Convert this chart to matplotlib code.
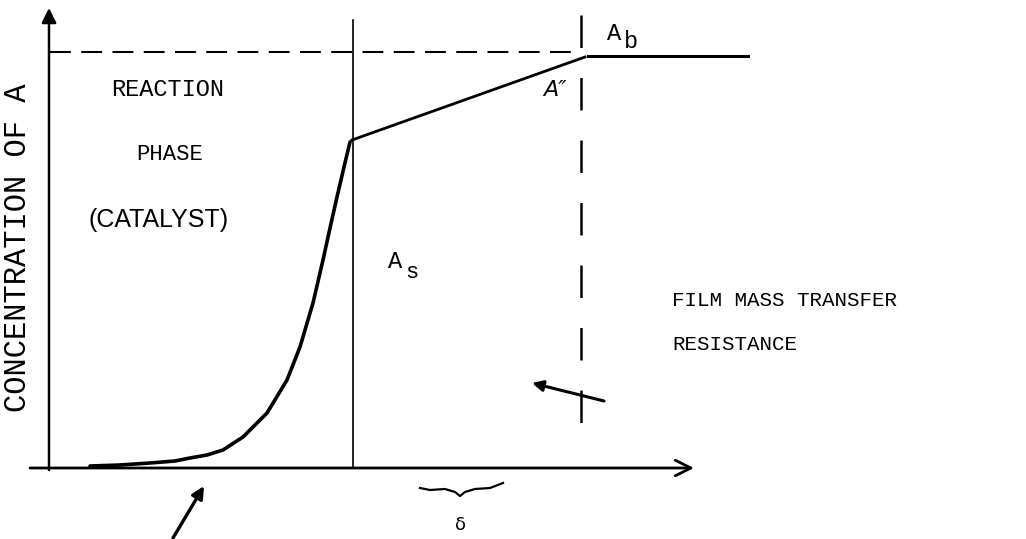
import matplotlib
matplotlib.use("Agg")
import matplotlib.pyplot as plt

# ---- data (diagram coordinates, pixel-like units, y grows downward) ----
curve_x = [90, 120, 150, 175, 190, 207, 223, 243, 267, 287, 300, 313, 323, 330, 337, 344, 350]
curve_y = [466, 465, 463, 461, 458, 455, 450, 437, 413, 380, 347, 303, 260, 228, 197, 167, 142]
film_x = [352, 585]
film_y = [140, 57]
bulk_x = [588, 748]
bulk_y = [56, 56]
brace_x = [420, 430, 445, 455, 460, 465, 475, 490, 503]
brace_y = [488, 490, 489, 492, 496, 492, 489, 488, 483]

labels_typewriter = ["REACTION", "PHASE", "FILM MASS TRANSFER", "RESISTANCE"]
ylabel = "CONCENTRATION OF A"

W, H = 1026, 539
fig = plt.figure(figsize=(W / 100, H / 100), dpi=100)
ax = fig.add_axes([0, 0, 1, 1])
ax.set_xlim(0, W)
ax.set_ylim(H, 0)
ax.axis("off")

k = "black"
mono = "Liberation Mono"

# axes
ax.annotate("", xy=(49, 8), xytext=(49, 470),
            arrowprops=dict(arrowstyle="-|>", lw=1.8, color=k, mutation_scale=22,
                            shrinkA=0, shrinkB=0))
ax.annotate("", xy=(694, 468), xytext=(30, 468),
            arrowprops=dict(arrowstyle="->", lw=2.0, color=k, mutation_scale=28,
                            shrinkA=0, shrinkB=0))

# dashed horizontal (bulk level)
ax.plot([50, 580], [52, 52], color=k, lw=1.5, linestyle=(0, (10, 5)))
# solid vertical (interface)
ax.plot([353, 353], [20, 468], color=k, lw=1.2)
# dashed vertical (film edge)
ax.plot([581, 581], [15, 445], color=k, lw=1.8, linestyle=(0, (13, 12)))

# concentration profile
ax.plot(curve_x, curve_y, color=k, lw=2.6, solid_capstyle="round", solid_joinstyle="round")
ax.plot(film_x, film_y, color=k, lw=2.0)
ax.plot(bulk_x, bulk_y, color=k, lw=2.2)

# pointer arrows
ax.annotate("", xy=(532, 383), xytext=(604, 401),
            arrowprops=dict(arrowstyle="-|>", lw=2.2, color=k, mutation_scale=16,
                            shrinkA=0, shrinkB=0))
ax.annotate("", xy=(204, 486), xytext=(173, 538),
            arrowprops=dict(arrowstyle="-|>", lw=2.4, color=k, mutation_scale=18,
                            shrinkA=0, shrinkB=0))

# brace under x-axis
ax.plot(brace_x, brace_y, color=k, lw=1.6)

# texts
ax.text(111, 90, labels_typewriter[0], fontfamily=mono, fontsize=17, va="center", ha="left")
ax.text(136, 155, labels_typewriter[1], fontfamily=mono, fontsize=16, va="center", ha="left")
ax.text(89, 220, "(CATALYST)", fontfamily="Liberation Sans", fontsize=18, va="center", ha="left")
ax.text(18, 248, ylabel, fontfamily=mono, fontsize=22, rotation=90, va="center", ha="center")
ax.text(672, 300, labels_typewriter[2], fontfamily=mono, fontsize=15, va="center", ha="left")
ax.text(672, 345, labels_typewriter[3], fontfamily=mono, fontsize=15, va="center", ha="left")
ax.text(388, 262, "A", fontfamily=mono, fontsize=17, va="center", ha="left")
ax.text(405, 272, "s", fontfamily=mono, fontsize=16, va="center", ha="left")
ax.text(607, 33, "A", fontfamily=mono, fontsize=17, va="center", ha="left")
ax.text(624, 42, "b", fontfamily=mono, fontsize=17, va="center", ha="left")
ax.text(543, 90, "A\u2033", fontfamily="DejaVu Sans", fontstyle="italic", fontsize=16,
        va="center", ha="left")
ax.text(461, 525, "\u03b4", fontfamily="DejaVu Sans", fontsize=13, va="center", ha="center")

fig.savefig("out.png", dpi=100)
